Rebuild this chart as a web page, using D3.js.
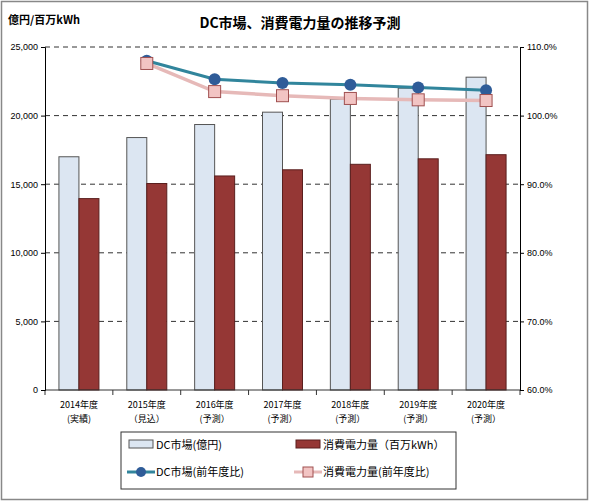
<!DOCTYPE html><html><head><meta charset="utf-8"><script src="https://cdn.jsdelivr.net/npm/d3@7"></script>
<style>body{margin:0;background:#fff;font-family:"Noto Sans CJK JP","Noto Sans",sans-serif}</style></head><body><svg id="c" width="590" height="502"></svg><script>
const categories=["2014年度|(実績)","2015年度|（見込）","2016年度|(予測）","2017年度|(予測）","2018年度|(予測）","2019年度|(予測）","2020年度|(予測）"];
const dcMarket=[17000,18400,19350,20250,21200,22000,22800];
const power=[13950,15050,15600,16050,16450,16850,17150];
const dcRatio=[null,108.0,105.3,104.75,104.5,104.1,103.7];
const powerRatio=[null,107.6,103.5,102.9,102.5,102.3,102.2];
const leftTicks=[0,5000,10000,15000,20000,25000];
const rightTicks=[60,70,80,90,100,110];
const svg=d3.select("#c");
svg.append("rect").attr("x",1.5).attr("y",1.5).attr("width",586).attr("height",498).attr("fill","#fff").attr("stroke","#888").attr("stroke-width",1.5);
const L=45,R=520,T=47,B=390;
const x=d3.scaleBand().domain(categories).range([L,R]);
const y=d3.scaleLinear().domain([0,25000]).range([B,T]);
const y2=d3.scaleLinear().domain([60,110]).range([B,T]);
svg.append("text").attr("x",300).attr("y",28).attr("text-anchor","middle").attr("font-size",14).attr("font-weight","bold").text("DC市場、消費電力量の推移予測");
svg.append("text").attr("x",8).attr("y",24).attr("font-size",11).attr("font-weight","bold").text("億円/百万kWh");
leftTicks.slice(1).forEach(t=>svg.append("line").attr("x1",L).attr("x2",R).attr("y1",y(t)).attr("y2",y(t)).attr("stroke","#333").attr("stroke-dasharray","5,4"));
const bw=20;
categories.forEach((c,i)=>{const cx=x(c)+x.bandwidth()/2;
svg.append("rect").attr("x",cx-bw).attr("y",y(dcMarket[i])).attr("width",bw).attr("height",B-y(dcMarket[i])).attr("fill","#dce6f2").attr("stroke","#555");
svg.append("rect").attr("x",cx).attr("y",y(power[i])).attr("width",bw).attr("height",B-y(power[i])).attr("fill","#953735").attr("stroke","#5a1f1e");});
svg.append("line").attr("x1",L).attr("x2",R).attr("y1",B).attr("y2",B).attr("stroke","#333");
categories.concat(["end"]).forEach((c,i)=>{const xx=L+i*x.bandwidth();svg.append("line").attr("x1",xx).attr("x2",xx).attr("y1",B).attr("y2",B+5).attr("stroke","#333");});
categories.forEach(c=>{const p=c.split("|");const cx=x(c)+x.bandwidth()/2;
svg.append("text").attr("x",cx).attr("y",B+18).attr("text-anchor","middle").attr("font-size",9).text(p[0]);
svg.append("text").attr("x",cx).attr("y",B+32).attr("text-anchor","middle").attr("font-size",9).text(p[1]);});
const la=svg.append("g").attr("transform",`translate(${L},0)`).call(d3.axisLeft(y).tickValues(leftTicks).tickFormat(d3.format(",")).tickSize(4));
la.selectAll("text").attr("font-size",9).attr("font-family","Liberation Sans");
const ra=svg.append("g").attr("transform",`translate(${R},0)`).call(d3.axisRight(y2).tickValues(rightTicks).tickFormat(d=>d.toFixed(1)+"%").tickSize(4));
ra.selectAll("text").attr("font-size",9).attr("font-family","Liberation Sans");
const cxOf=i=>x(categories[i])+x.bandwidth()/2;
const idx=d3.range(1,7);
const line=(arr)=>d3.line().x(i=>cxOf(i)).y(i=>y2(arr[i]))(idx);
svg.append("path").attr("d",line(powerRatio)).attr("fill","none").attr("stroke","#e6b9b8").attr("stroke-width",3.5);
svg.append("path").attr("d",line(dcRatio)).attr("fill","none").attr("stroke","#31859c").attr("stroke-width",3);
idx.forEach(i=>svg.append("circle").attr("cx",cxOf(i)).attr("cy",y2(dcRatio[i])).attr("r",6).attr("fill","#2f5c98"));
idx.forEach(i=>svg.append("rect").attr("x",cxOf(i)-6).attr("y",y2(powerRatio[i])-6).attr("width",12).attr("height",12).attr("fill","#f2c4c3").attr("stroke","#a05050"));
const lg=svg.append("g");
lg.append("rect").attr("x",121).attr("y",432).attr("width",335).attr("height",57).attr("fill","#fff").attr("stroke","#333");
lg.append("rect").attr("x",129).attr("y",440).attr("width",24).attr("height",8).attr("fill","#dce6f2").attr("stroke","#555");
lg.append("text").attr("x",156).attr("y",449).attr("font-size",11).text("DC市場(億円)");
lg.append("rect").attr("x",296).attr("y",440).attr("width",24).attr("height",8).attr("fill","#953735").attr("stroke","#5a1f1e");
lg.append("text").attr("x",323).attr("y",449).attr("font-size",11).text("消費電力量（百万kWh）");
lg.append("line").attr("x1",127).attr("x2",155).attr("y1",472).attr("y2",472).attr("stroke","#31859c").attr("stroke-width",3);
lg.append("circle").attr("cx",141).attr("cy",472).attr("r",5).attr("fill","#2f5c98");
lg.append("text").attr("x",156).attr("y",476).attr("font-size",11).text("DC市場(前年度比)");
lg.append("line").attr("x1",294).attr("x2",322).attr("y1",472).attr("y2",472).attr("stroke","#e6b9b8").attr("stroke-width",3);
lg.append("rect").attr("x",303).attr("y",467).attr("width",10).attr("height",10).attr("fill","#f2c4c3").attr("stroke","#a05050");
lg.append("text").attr("x",323).attr("y",476).attr("font-size",11).text("消費電力量(前年度比)");
</script></body></html>
